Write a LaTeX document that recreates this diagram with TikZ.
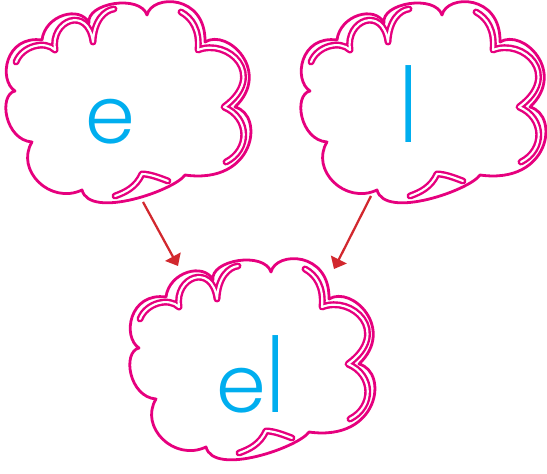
\documentclass[tikz,border=0pt]{standalone}
\usepackage{fontspec}
\usepackage{graphicx}
\usepackage{tikz}
\usetikzlibrary{arrows.meta}
\newfontfamily\kidfont{Poppins Light}
\definecolor{cloudpink}{HTML}{E6007E}
\definecolor{letterblue}{HTML}{00AEEF}
\definecolor{arrowred}{HTML}{D2282E}
\newcommand\tallstroke[1]{\scalebox{1}[1.3]{#1}}

\begin{document}
\begin{tikzpicture}[
    x=0.75pt, y=-0.75pt,
    rim/.style={draw=cloudpink, line width=2.1pt, line join=round},
    echo/.style={draw=cloudpink, line width=1.8pt, double=white, double distance=1.6pt, line join=round, line cap=round},
    letter/.style={text=letterblue, inner sep=0pt, font=\kidfont\fontsize{60}{60}\selectfont},
    link/.style={-{Triangle[length=8pt, width=13pt]}, line width=1.7pt, draw=arrowred},
    thought/.pic={
        \draw[rim] (89,23) .. controls (86,3) and (140,-6) .. (147,15)
            .. controls (152,-6) and (206,-6) .. (205,42)
            .. controls (228,28) and (272,72) .. (235,107)
            .. controls (265,115) and (255,185) .. (185,175)
            .. controls (175,190) and (90,220) .. (82,190)
            .. controls (50,205) and (15,170) .. (32,142)
            .. controls (5,140) and (-2,95) .. (15,91)
            .. controls (-2,80) and (5,35) .. (42,40)
            .. controls (45,15) and (80,5) .. (89,23) -- cycle;
        % inner strokes
        \draw[echo] (16,62) .. controls (22,46) and (45,40) .. (55,50)
            .. controls (50,20) and (88,5) .. (93,42)
            .. controls (94,20) and (105,10) .. (114,9);
        \draw[echo] (181,12) .. controls (192,18) and (200,30) .. (198,50)
            .. controls (228,38) and (268,75) .. (224,107)
            .. controls (250,118) and (250,150) .. (226,162);
        \draw[echo] (168,181) .. controls (160,178) and (150,174) .. (142,174)
            .. controls (136,187) and (126,192) .. (115,196);
    }
]
    \useasboundingbox (0,0) rectangle (547,474);

    \pic at (0,0) {thought};
    \pic at (295,0) {thought};
    \pic at (124,257) {thought};

    \node[letter, anchor=base] (e) at (110,144) {e};
    \node[letter, anchor=base] (l) at (409,143) {\tallstroke{l}};
    \node[letter, anchor=base] (el) at (251,412) {e\tallstroke{l}};

    \coordinate (e-tail) at (143,202);
    \coordinate (el-left) at (178,266);
    \coordinate (l-tail) at (371,196);
    \coordinate (el-right) at (334,269);

    \draw[link] (e-tail) -- (el-left);
    \draw[link] (l-tail) -- (el-right);
\end{tikzpicture}
\end{document}
